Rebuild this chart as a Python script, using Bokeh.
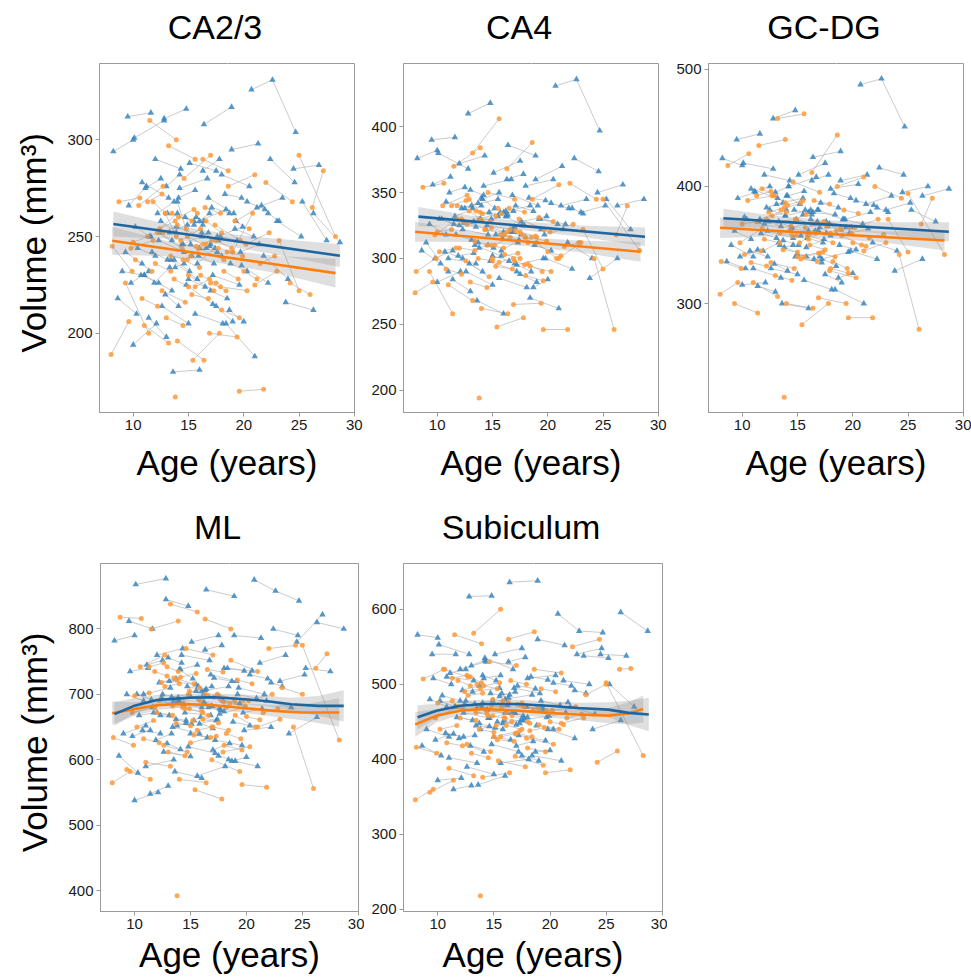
from bokeh.plotting import figure
from bokeh.layouts import column, row
from bokeh.models import Range1d, FixedTicker, LinearAxis
from bokeh.embed import file_html
from bokeh.resources import INLINE

# ---------------- subjects (ages shared across panels) ----------------
blue_sid = [1,1, 2,2, 3,3, 4,4, 5,5, 6,6, 7,7, 8,8, 9,9, 10,10, 11,11, 12,12, 13,13, 14,14,
            15,15, 16,16, 17,17, 18,18, 19,19, 20,20, 21,21, 22,22, 23,23, 24,24, 25,25,
            26,26, 27,27, 28,28, 29,29, 30,30, 31,31, 32,32, 33,33, 34,34, 35,35, 36,36,
            37,37,37, 38,38, 39,39, 40,40, 41,41, 42,42, 43,43, 44,44, 45,45, 46,46, 47,47,
            48,48, 49,49, 50,50, 51,51, 52,52, 53,53, 54,54,
            55,55, 56,56, 57,57, 58,58, 59,59, 60,60, 61,61, 62,62, 63,63, 64,64, 65,65,
            66,66, 67,67, 68,68, 69,69, 70,70, 71,71, 72,72, 73,73, 74,74, 75,75, 76,76,
            77,77, 78,78, 79,79, 80,80, 81,81, 82,82, 83,83, 84,84]
blue_age = [8.2,10.0, 8.6,10.3, 9.0,11.0, 9.5,11.6, 9.6,11.2, 10.0,12.1, 10.1,12.8, 10.4,12.0,
            10.8,13.2, 11.0,13.5, 11.4,13.0, 11.6,14.0, 12.0,14.3, 12.3,14.6, 12.6,15.0,
            12.8,14.8, 13.1,15.5, 13.4,15.8, 13.6,16.0, 13.9,16.2, 14.2,16.7, 14.5,16.8,
            14.8,17.2, 15.1,17.5, 15.3,17.0, 15.6,18.1, 16.0,18.4, 16.4,18.9, 16.8,19.1,
            17.2,19.6, 17.6,19.9, 18.0,20.5, 18.4,21.0, 18.9,21.3, 19.3,21.6, 19.8,22.2,
            20.7,22.6,24.7, 21.2,23.5, 21.8,24.0, 22.4,24.6, 23.0,25.2, 23.8,26.3, 24.5,26.8,
            25.3,27.5, 26.3,28.7, 11.9,13.3, 14.0,15.2, 15.8,17.4, 17.0,18.5, 9.3,10.8,
            13.0,14.2, 16.2,17.7, 18.7,20.0, 12.5,13.9,
            10.2,11.5, 10.7,12.3, 11.1,12.5, 11.7,13.1, 12.2,13.7, 12.9,14.1, 13.3,14.9,
            13.7,15.1, 14.1,15.6, 14.4,16.0, 14.7,16.3, 15.0,16.5, 15.5,16.9, 15.9,17.3,
            16.3,17.8, 16.6,18.0, 17.1,18.7, 17.5,19.0, 17.9,19.4, 18.3,19.8, 18.8,20.3,
            19.2,20.9, 19.7,21.4, 20.3,21.9, 12.4,13.5, 13.8,14.6, 15.7,16.4, 16.9,17.6,
            9.8,11.4, 22.2,23.2]

orange_sid = [1,1, 2,2, 3,3, 4,4, 5,5, 6,6, 7,7, 8,8, 9,9, 10,10, 11,11, 12,12, 13, 14,14,
              15,15, 16,16, 17,17, 18,18, 19,19, 20,20, 21,21, 22,22, 23,23, 24,24, 25,25,
              26,26, 27,27, 28,28, 29,29, 30,30, 31,31, 32,32, 33,33, 34,34, 35,35, 36,36,
              37,37, 38,38, 39,39, 40,40,
              41,41, 42,42, 43,43, 44,44, 45,45, 46,46, 47,47, 48,48, 49,49, 50,50, 51,51,
              52,52, 53,53, 54,54, 55,55, 56,56, 57,57, 58,58, 59,59, 60,60, 61,61, 62,62,
              63,63, 64,64, 65,65]
orange_age = [8.0,9.6, 8.1,9.9, 8.7,10.6, 9.3,11.4, 9.8,11.8, 10.5,12.7, 11.0,13.2, 11.5,13.9,
              12.2,14.4, 12.6,14.7, 13.2,15.6, 13.5,15.3, 13.8, 14.0,16.4, 14.3,16.1,
              14.6,17.0, 15.0,17.3, 15.4,17.8, 15.9,18.2, 16.3,18.6, 16.9,19.4, 17.4,19.7,
              17.9,20.3, 18.6,21.0, 19.6,21.8, 20.2,22.3, 21.0,23.0, 22.0,24.4, 23.2,25.0,
              24.2,26.0, 25.0,28.3, 26.2,27.2, 10.2,11.7, 12.9,13.9, 15.2,16.6, 16.6,18.0,
              18.2,19.5, 19.0,20.8, 11.8,12.9, 14.8,15.8,
              10.0,11.3, 10.8,12.2, 11.3,12.6, 12.0,13.4, 12.4,13.8, 13.0,14.5, 13.4,14.9,
              13.7,15.0, 14.1,15.5, 14.5,16.0, 14.9,16.3, 15.3,16.8, 15.7,17.1, 16.1,17.5,
              16.5,17.9, 17.0,18.4, 17.5,18.9, 18.0,19.6, 18.5,19.9, 19.2,20.5, 20.0,21.2,
              12.7,14.0, 15.6,16.9, 17.7,19.0, 21.5,22.8]

# ---------------- volumes per panel (mm^3) ----------------
ca23_blue = [294,300, 218,210, 232,230, 312,314, 266,276, 194,205, 301,310, 244,240, 278,270,
             230,222, 208,198, 250,262, 290,285, 248,242, 214,205, 311,316, 262,258, 238,228,
             180,181, 255,250, 275,280, 246,252, 225,215, 288,284, 240,246, 210,205, 258,264,
             308,317, 270,262, 230,225, 250,255, 282,276, 205,188, 295,298, 258,266, 235,226,
             326,331,304, 265,270, 240,228, 290,278, 258,250, 216,212, 285,287, 268,248,
             262,247, 226,234, 268,246, 236,244, 222,218, 242,236, 276,282, 252,248, 212,206,
             258,252,
             255,250, 230,226, 275,280, 242,238, 262,268, 220,214, 252,256, 238,232, 270,274,
             246,244, 260,256, 228,224, 256,262, 240,236, 284,290, 244,240, 265,262, 214,206,
             250,248, 272,270, 236,232, 254,250, 242,246, 268,264, 252,248, 234,236, 260,258,
             245,242, 226,232, 262,258]
ca23_orange = [189,206, 245,232, 268,270, 226,200, 244,248, 266,276, 204,195, 310,300, 252,244,
               222,216, 297,290, 262,258, 167, 196,186, 248,254, 280,292, 230,222, 186,200,
               244,238, 290,284, 200,198, 256,248, 224,222, 276,282, 170,171, 246,252,
               225,232, 278,268, 248,222, 226,220, 292,250, 265,284, 238,232, 262,250,
               240,246, 258,252, 232,228, 242,262, 268,262, 254,262,
               247,250, 218,214, 268,272, 236,232, 254,258, 208,204, 240,238, 228,224,
               260,264, 238,234, 250,246, 220,218, 245,248, 230,226, 265,262, 226,222,
               248,244, 212,208, 242,240, 258,254, 232,228, 252,256, 224,228, 244,242,
               236,240]

ca4_blue = [376,382, 306,296, 312,290, 390,392, 356,362, 282,290, 380,368, 330,325, 343,338,
            300,296, 284,275, 332,340, 372,378, 322,318, 290,280, 410,418, 340,345, 310,302,
            268,258, 330,336, 355,360, 325,322, 298,290, 365,374, 318,324, 285,278, 335,340,
            386,378, 348,340, 295,300, 328,332, 355,360, 270,262, 360,370, 330,326, 300,292,
            431,436,397, 340,345, 312,300, 376,366, 335,340, 285,300, 350,356, 345,322,
            340,345, 302,304, 346,338, 306,314, 296,290, 326,318, 352,348, 332,325, 278,284,
            338,330,
            330,326, 305,300, 350,354, 318,314, 338,342, 296,290, 328,330, 312,308, 345,350,
            322,320, 335,332, 302,298, 332,336, 315,312, 360,364, 320,316, 340,336, 288,282,
            325,322, 346,344, 310,306, 330,326, 318,322, 342,338, 327,324, 308,310, 335,333,
            320,318, 300,306, 338,334]
ca4_orange = [274,282, 290,300, 354,357, 290,258, 318,330, 340,348, 280,268, 370,384, 330,322,
              298,286, 380,406, 336,332, 194, 262,258, 322,318, 350,345, 300,304, 248,255,
              318,312, 368,388, 265,266, 330,322, 295,290, 345,356, 246,246, 320,326,
              300,312, 357,345, 322,292, 300,246, 345,306, 318,340, 305,308, 345,335,
              310,316, 322,316, 296,290, 312,300, 340,336, 328,334,
              320,322, 292,288, 340,344, 308,306, 328,330, 282,278, 313,310, 300,298,
              334,338, 310,308, 323,320, 294,292, 318,321, 303,300, 338,335, 298,294,
              320,317, 287,283, 316,313, 331,328, 305,302, 326,329, 297,300, 318,316,
              309,312]

gcdg_blue = [424,418, 336,330, 350,340, 440,445, 390,395, 316,318, 420,415, 372,368, 398,390,
             330,322, 315,310, 372,380, 410,405, 362,356, 330,325, 458,465, 385,390, 350,340,
             300,296, 375,380, 400,408, 365,370, 340,335, 410,420, 358,365, 320,312, 378,376,
             425,430, 380,372, 338,344, 370,365, 398,402, 312,300, 405,410, 372,378, 345,338,
             487,492,451, 385,392, 352,345, 416,410, 380,386, 328,338, 395,400, 380,370,
             392,398, 345,352, 392,385, 348,355, 340,332, 362,355, 395,400, 372,366, 322,326,
             380,375,
             374,370, 345,340, 396,400, 360,356, 382,386, 334,328, 370,372, 354,350, 392,396,
             364,362, 380,376, 342,338, 376,380, 356,352, 405,410, 362,358, 386,382, 325,318,
             368,365, 394,390, 350,346, 372,368, 360,364, 388,384, 370,366, 348,350, 380,378,
             362,360, 340,346, 382,378]
gcdg_orange = [308,318, 336,330, 418,428, 300,292, 352,364, 388,392, 318,306, 435,440, 372,366,
               335,330, 458,462, 380,386, 220, 300,296, 362,360, 404,395, 340,344, 282,300,
               358,352, 412,444, 305,300, 370,365, 328,322, 400,408, 288,288, 365,372,
               345,352, 400,390, 372,344, 342,278, 394,342, 368,390, 342,345, 392,386,
               352,360, 368,360, 336,330, 358,350, 398,392, 372,376,
               368,370, 335,332, 392,396, 355,352, 378,382, 324,320, 360,358, 346,344,
               384,388, 358,355, 372,368, 338,336, 365,368, 350,346, 388,385, 343,340,
               368,364, 330,326, 362,360, 380,377, 352,349, 375,378, 340,343, 366,363,
               356,359]

ml_blue = [782,790, 606,580, 640,652, 812,800, 735,740, 538,550, 868,877, 668,672, 700,710,
           590,600, 548,560, 680,690, 760,770, 668,660, 612,605, 845,835, 720,715, 650,640,
           582,572, 690,700, 760,752, 672,668, 620,610, 780,790, 660,648, 575,590, 705,712,
           860,850, 730,720, 630,622, 670,680, 740,736, 600,590, 790,786, 710,700, 645,650,
           875,858,843, 748,760, 690,680, 800,790, 720,730, 640,665, 780,822, 740,735,
           810,800, 630,640, 738,724, 655,662, 615,625, 700,690, 756,748, 688,676, 598,604,
           700,695,
           700,692, 645,640, 745,752, 672,668, 718,724, 625,616, 696,700, 662,655, 738,745,
           685,680, 712,706, 640,634, 705,712, 665,660, 768,775, 680,674, 725,720, 606,598,
           690,686, 740,736, 658,652, 700,694, 672,678, 730,724, 695,690, 652,656, 712,708,
           682,678, 636,645, 718,712]
ml_orange = [565,582, 634,622, 818,816, 585,570, 672,680, 742,760, 596,590, 800,812, 690,682,
             622,612, 838,826, 725,716, 392, 570,565, 680,672, 770,760, 626,636, 554,540,
             690,680, 815,800, 600,582, 700,690, 612,620, 752,735, 562,558, 690,700,
             650,662, 770,775, 710,700, 650,556, 775,630, 740,762, 650,660, 742,735,
             660,668, 698,688, 640,632, 668,650, 735,728, 700,710,
             698,702, 632,626, 742,748, 672,668, 718,722, 612,606, 682,678, 656,652,
             726,732, 678,674, 705,700, 638,634, 692,696, 662,656, 738,734, 650,645,
             698,692, 622,615, 686,682, 722,716, 666,661, 712,716, 645,650, 692,688,
             672,678]

sub_blue = [566,562, 418,405, 440,430, 540,540, 508,500, 372,375, 553,540, 485,478, 510,505,
            402,395, 360,365, 470,475, 520,530, 462,455, 390,380, 617,618, 490,495, 445,440,
            366,378, 468,472, 535,520, 455,462, 420,410, 540,548, 450,446, 395,400, 480,486,
            636,638, 495,488, 432,425, 452,458, 508,512, 405,398, 560,552, 470,476, 440,428,
            594,571,569, 505,500, 470,460, 540,548, 538,535, 440,452, 540,538, 500,470,
            596,571, 428,432, 512,505, 448,452, 418,424, 480,470, 525,532, 462,455, 410,412,
            478,472,
            478,470, 435,430, 515,520, 456,452, 492,498, 418,410, 474,478, 448,442, 508,512,
            466,462, 488,482, 430,426, 484,490, 452,448, 530,536, 462,456, 498,494, 405,398,
            470,466, 510,506, 445,440, 478,472, 456,462, 502,498, 474,468, 440,444, 488,486,
            462,458, 426,434, 492,488]
sub_orange = [346,360, 416,408, 507,520, 356,372, 455,470, 520,510, 388,378, 566,554, 468,460,
              420,410, 568,600, 500,494, 218, 376,382, 465,462, 530,525, 430,438, 398,390,
              455,448, 560,570, 404,392, 472,465, 428,420, 520,515, 382,386, 465,470,
              448,455, 550,560, 486,500, 396,411, 502,405, 520,521, 440,445, 510,502,
              445,450, 458,450, 438,442, 446,440, 505,498, 472,478,
              475,478, 422,418, 508,512, 455,452, 490,494, 408,402, 462,458, 440,436,
              498,502, 458,455, 480,476, 426,424, 470,473, 445,440, 505,500, 435,430,
              475,470, 415,410, 465,462, 494,490, 450,446, 485,488, 430,434, 470,467,
              455,460]

# ---------------- fitted lines and confidence bands ----------------
ca23_fit_blue_x = [8.2, 28.7];   ca23_fit_blue_y = [256.5, 240.1]
ca23_fit_orange_x = [8.1, 28.3]; ca23_fit_orange_y = [247.8, 231.1]
ca23_band_blue_x = [8.2, 13, 18, 23, 28.7]
ca23_band_blue_lo = [250.0, 248.9, 245.6, 240.6, 234.2]
ca23_band_blue_hi = [263.0, 256.5, 251.8, 248.8, 246.0]
ca23_band_orange_x = [8.1, 13, 18, 23, 28.3]
ca23_band_orange_lo = [240.6, 239.8, 236.1, 231.0, 223.7]
ca23_band_orange_hi = [255.0, 247.8, 243.1, 240.0, 238.5]

ca4_fit_blue_x = [8.3, 28.8];   ca4_fit_blue_y = [331.7, 316.4]
ca4_fit_orange_x = [8.0, 28.4]; ca4_fit_orange_y = [320.2, 305.0]
ca4_band_blue_x = [8.3, 13, 18, 23, 28.8]
ca4_band_blue_lo = [324.4, 323.9, 321.2, 316.4, 309.3]
ca4_band_blue_hi = [339.0, 332.5, 327.8, 325.0, 323.5]
ca4_band_orange_x = [8.0, 13, 18, 23, 28.4]
ca4_band_orange_lo = [312.6, 312.5, 309.4, 304.5, 297.5]
ca4_band_orange_hi = [327.8, 320.5, 316.0, 313.5, 312.5]

gcdg_fit_blue_x = [8.3, 28.7];   gcdg_fit_blue_y = [372.8, 361.3]
gcdg_fit_orange_x = [8.0, 28.3]; gcdg_fit_orange_y = [364.8, 353.9]
gcdg_band_blue_x = [8.3, 13, 18, 23, 28.7]
gcdg_band_blue_lo = [364.6, 365.2, 363.6, 359.5, 353.1]
gcdg_band_blue_hi = [381.0, 375.0, 371.0, 369.5, 369.5]
gcdg_band_orange_x = [8.0, 13, 18, 23, 28.3]
gcdg_band_orange_lo = [356.1, 357.4, 355.6, 351.9, 345.3]
gcdg_band_orange_hi = [373.5, 366.8, 363.2, 361.5, 362.5]

ml_fit_blue_x = [8.2, 9.9, 12, 15, 17.1, 19.9, 21.9, 24, 26.4, 28.7]
ml_fit_blue_y = [669.7, 682, 691.4, 695, 695.5, 692.4, 689.4, 684.8, 682.3, 682.3]
ml_band_blue_lo = [651.7, 670, 683.4, 689, 689.5, 685.4, 681.4, 674.8, 667.3, 658.3]
ml_band_blue_hi = [687.7, 694, 699.4, 701, 701.5, 699.4, 697.4, 694.8, 697.3, 706.3]
ml_fit_orange_x = [8.0, 9.9, 12, 14.1, 17.1, 19.9, 22.5, 24.9, 28.3]
ml_fit_orange_y = [671.2, 677.3, 683.3, 685.4, 683.3, 678.8, 674.7, 672.2, 672.2]
ml_band_orange_lo = [653.4, 666.6, 676.1, 679.3, 677.1, 671.6, 665.9, 660.4, 650.4]
ml_band_orange_hi = [689.0, 688.0, 690.5, 691.5, 689.5, 686.0, 683.5, 684.0, 694.0]

sub_fit_blue_x = [8.2, 9.9, 12, 14.1, 17.1, 19.8, 22.5, 25.2, 27, 28.8]
sub_fit_blue_y = [456, 464.8, 471.4, 473.6, 473.6, 471.4, 468.4, 466.2, 461.8, 459.6]
sub_band_blue_lo = [440, 455.1, 464.8, 467.7, 467.7, 465.3, 461.3, 456.4, 445.6, 437.2]
sub_band_blue_hi = [472, 474.5, 478, 479.5, 479.5, 477.5, 475.5, 476, 478, 482]
sub_fit_orange_x = [8.0, 9.9, 12, 14.1, 17.1, 19.8, 22.5, 25.2, 27, 28.3]
sub_fit_orange_y = [446.4, 458.2, 464.8, 467, 464.8, 461.8, 459.6, 458.2, 461.3, 467]
sub_band_orange_lo = [429.8, 449.4, 458.6, 461.5, 459.1, 455.6, 452.2, 447.9, 446.6, 449]
sub_band_orange_hi = [463, 467, 471, 472.5, 470.5, 468, 467, 468.5, 476, 485]

x_ticks = [10, 15, 20, 25, 30]
X_RANGE = (6.95, 30.02)
FONT = "Liberation Sans"
BLUE_PT = "#3a86bf"
ORANGE_PT = "#ff9a3a"
BLUE_LINE = "#1f66a0"
ORANGE_LINE = "#ff7f0e"
GRAY = "#9a9a9a"


def paths(sids, ages, vols):
    xs, ys, cur = [], [], None
    for s, a, v in zip(sids, ages, vols):
        if s != cur:
            xs.append([]); ys.append([]); cur = s
        xs[-1].append(a); ys[-1].append(v)
    return xs, ys


def panel(title, title_w, yr, yticks, bvol, ovol, fits, bands, width, height,
          bl, br, bt, bb, ylabel=False, xstand=10):
    p = figure(width=width, height=height, x_range=Range1d(*X_RANGE),
               y_range=Range1d(*yr), output_backend="svg", toolbar_location=None,
               min_border_left=bl, min_border_right=br, min_border_top=bt,
               min_border_bottom=bb, title=title)
    p.background_fill_color = "white"
    p.border_fill_color = "white"
    p.outline_line_color = GRAY
    p.outline_line_width = 1
    p.xgrid.visible = False
    p.ygrid.visible = False
    for ax in (p.xaxis[0], p.yaxis[0]):
        ax.axis_line_color = GRAY
        ax.major_tick_line_color = GRAY
        ax.minor_tick_line_color = None
        ax.major_tick_out = 4
        ax.major_tick_in = 0
        ax.major_label_text_font = FONT
        ax.major_label_text_font_size = "15px"
        ax.major_label_text_color = "#1a1a1a"
        ax.major_label_standoff = 3
        ax.axis_label_text_font = FONT
        ax.axis_label_text_font_size = "35px"
        ax.axis_label_text_font_style = "normal"
        ax.axis_label_text_color = "black"
    p.xaxis.ticker = FixedTicker(ticks=x_ticks)
    p.yaxis.ticker = FixedTicker(ticks=yticks)
    p.xaxis.axis_label = "Age (years)"
    p.xaxis.axis_label_standoff = xstand
    if ylabel:
        p.yaxis.axis_label = "Volume  (mm³)"
        p.yaxis.axis_label_standoff = 11

    # title: sits above a blank spacer axis (one white tick, empty label)
    fw = width - bl - br
    p.title.align = "left"
    p.title.offset = fw / 2 - 12 - title_w / 2
    p.title.standoff = 2
    p.title.text_font = FONT
    p.title.text_font_size = "34px"
    p.title.text_font_style = "normal"
    p.title.text_color = "black"
    spacer = LinearAxis(ticker=FixedTicker(ticks=[18.5]), major_tick_out=17, major_tick_in=0,
                        axis_line_color=None, major_tick_line_color="white",
                        minor_tick_line_color=None, major_label_standoff=0,
                        major_label_overrides={18.5: ""},
                        major_label_text_font_size="1px")
    p.add_layout(spacer, "above")

    bx, by = paths(blue_sid, blue_age, bvol)
    ox, oy = paths(orange_sid, orange_age, ovol)
    p.multi_line(bx + ox, by + oy, line_color="#b5b5b5", line_alpha=0.7, line_width=1)
    p.scatter(blue_age, bvol, marker="triangle", size=6.5, fill_color=BLUE_PT,
              fill_alpha=0.85, line_color=None)
    p.scatter(orange_age, ovol, marker="circle", size=5, fill_color=ORANGE_PT,
              fill_alpha=0.85, line_color=None)
    for (x, lo, hi) in bands:
        p.varea(x=x, y1=lo, y2=hi, fill_color="#8c8c8c", fill_alpha=0.28)
    (bfx, bfy), (ofx, ofy) = fits
    p.line(ofx, ofy, line_color=ORANGE_LINE, line_width=2.6)
    p.line(bfx, bfy, line_color=BLUE_LINE, line_width=2.6)
    return p


H1 = 487
H2 = 492
f1 = panel("CA2/3", 94.5, (159, 339.5), [200, 250, 300], ca23_blue, ca23_orange,
           ((ca23_fit_blue_x, ca23_fit_blue_y), (ca23_fit_orange_x, ca23_fit_orange_y)),
           [(ca23_band_blue_x, ca23_band_blue_lo, ca23_band_blue_hi),
            (ca23_band_orange_x, ca23_band_orange_lo, ca23_band_orange_hi)],
           364, H1, 99, 10, 63, 75, ylabel=True)
f2 = panel("CA4", 66.1, (183, 448), [200, 250, 300, 350, 400], ca4_blue, ca4_orange,
           ((ca4_fit_blue_x, ca4_fit_blue_y), (ca4_fit_orange_x, ca4_fit_orange_y)),
           [(ca4_band_blue_x, ca4_band_blue_lo, ca4_band_blue_hi),
            (ca4_band_orange_x, ca4_band_orange_lo, ca4_band_orange_hi)],
           304, H1, 39, 10, 63, 75)
f3 = panel("GC-DG", 113.3, (207, 505), [300, 400, 500], gcdg_blue, gcdg_orange,
           ((gcdg_fit_blue_x, gcdg_fit_blue_y), (gcdg_fit_orange_x, gcdg_fit_orange_y)),
           [(gcdg_band_blue_x, gcdg_band_blue_lo, gcdg_band_blue_hi),
            (gcdg_band_orange_x, gcdg_band_orange_lo, gcdg_band_orange_hi)],
           303, H1, 40, 8, 63, 75)
f4 = panel("ML", 47.2, (368, 900), [400, 500, 600, 700, 800], ml_blue, ml_orange,
           ((ml_fit_blue_x, ml_fit_blue_y), (ml_fit_orange_x, ml_fit_orange_y)),
           [(ml_fit_blue_x, ml_band_blue_lo, ml_band_blue_hi),
            (ml_fit_orange_x, ml_band_orange_lo, ml_band_orange_hi)],
           364, H2, 100, 6, 76, 68, ylabel=True, xstand=3)
f5 = panel("Subiculum", 158.7, (197, 661), [200, 300, 400, 500, 600], sub_blue, sub_orange,
           ((sub_fit_blue_x, sub_fit_blue_y), (sub_fit_orange_x, sub_fit_orange_y)),
           [(sub_fit_blue_x, sub_band_blue_lo, sub_band_blue_hi),
            (sub_fit_orange_x, sub_band_orange_lo, sub_band_orange_hi)],
           303, H2, 39, 5, 76, 68, xstand=3)

layout = column(row(f1, f2, f3), row(f4, f5))
open("out.html", "w").write(file_html(layout, INLINE))
